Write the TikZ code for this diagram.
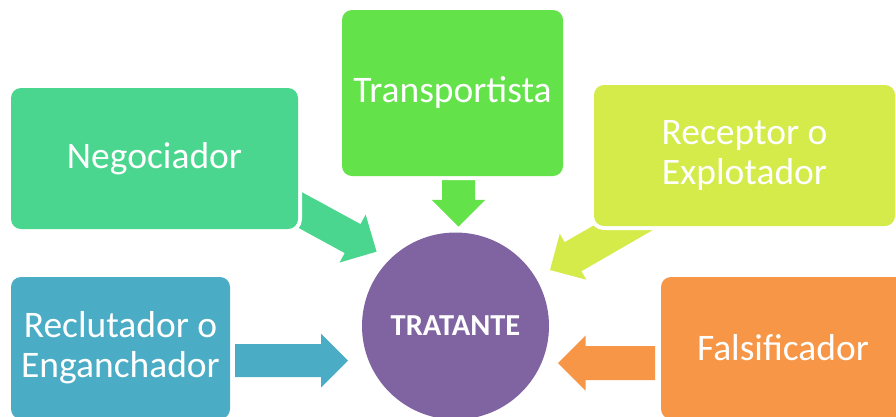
\documentclass[tikz,border=0pt]{standalone}
\usepackage{fontspec}
\setmainfont{Carlito}
\definecolor{cneg}{HTML}{4AD68F}
\definecolor{ctra}{HTML}{63E24A}
\definecolor{crec}{HTML}{D4EB4A}
\definecolor{ccla}{HTML}{4BACC6}
\definecolor{cfal}{HTML}{F79646}
\definecolor{ctrat}{HTML}{8064A2}
% block arrow: colour, tail coordinate, angle, length, shaft half width, head half width
\newcommand\blockarrow[6]{%
  \fill[#1, shift={(#2)}, rotate=#3]
    (0pt,#5pt) -- (#4pt-#6pt,#5pt) -- (#4pt-#6pt,#6pt) -- (#4pt,0pt)
    -- (#4pt-#6pt,-#6pt) -- (#4pt-#6pt,-#5pt) -- (0pt,-#5pt) -- cycle;}
\begin{document}
\begin{tikzpicture}[x=1pt,y=-1pt,
  boxstyle/.style={rounded corners=10pt, text=white, align=center,
    font=\fontsize{37.5}{40}\selectfont, inner sep=0pt,
    preaction={draw=white, line width=8pt}},
  hub/.style={circle, fill=ctrat, text=white, inner sep=0pt,
    minimum size=187pt, font=\fontsize{30.5}{32}\selectfont\bfseries}]
\useasboundingbox (0,0) rectangle (896,416);
\clip (0,0) rectangle (896,416);
% arrow tails (hidden under boxes)
\coordinate (aneg) at (280,199);
\coordinate (atra) at (458.5,172);
\coordinate (arec) at (660,206.5);
\coordinate (acla) at (235,360.5);
\coordinate (afal) at (655,363);
\blockarrow{cneg}{aneg}{-28.6}{110}{16.5}{27.3}
\blockarrow{ctra}{atra}{-90}{54.7}{16.5}{26.8}
\blockarrow{crec}{arec}{-150}{127}{16.8}{26.6}
\blockarrow{ccla}{acla}{0}{113}{16.5}{27}
\blockarrow{cfal}{afal}{180}{97}{17}{27.5}
% boxes
\node[boxstyle, fill=cneg, minimum width=287pt, minimum height=141pt] (neg) at (154.5,158.5) {Negociador};
\node[boxstyle, fill=ctra, minimum width=221pt, minimum height=166pt] (tra) at (452.5,93) {Transportista};
\node[boxstyle, fill=crec, minimum width=301pt, minimum height=141pt] (rec) at (744.5,155.5) {Receptor o\\Explotador};
\node[boxstyle, fill=ccla, minimum width=219pt, minimum height=142pt] (cla) at (120.5,348) {Reclutador o\\Enganchador};
\node[boxstyle, fill=cfal, minimum width=244pt, minimum height=142pt] (fal) at (783,348) {Falsificador};
% hub
\node[hub] (trat) at (455.5,326) {TRATANTE};
\end{tikzpicture}
\end{document}
